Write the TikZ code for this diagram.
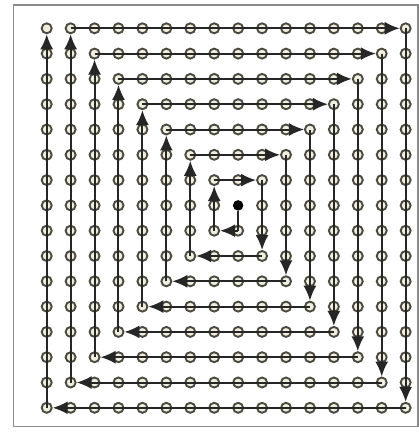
\documentclass[tikz,border=0pt]{standalone}
\usetikzlibrary{arrows.meta}
\definecolor{circ}{HTML}{4A4A3E}
\definecolor{circfill}{HTML}{F1EEDF}
\definecolor{framecol}{HTML}{8A8A8A}
\begin{document}
\begin{tikzpicture}[x=1pt,y=-1pt,
  dot/.style={circle, draw=circ, fill=circfill, line width=1.9pt, minimum size=10pt, inner sep=0pt},
  centre/.style={circle, fill=black, minimum size=10.5pt, inner sep=0pt},
  seg/.style={line width=2pt, draw=black!85},
  aseg/.style={seg, -{Latex[length=15pt,width=13pt]}}]
\useasboundingbox (0,0) rectangle (419,432);
\fill[white] (0,0) rectangle (419,432);
\draw[framecol, line width=1.8pt] (13.5,5) rectangle (418,426.5);
% grid of nodes
\foreach \i in {0,...,15}{\foreach \j in {0,...,15}{
  \ifnum\i=8 \ifnum\j=7 \def\st{centre}\else\def\st{dot}\fi\else\def\st{dot}\fi
  \node[\st] (n-\i-\j) at ({46.7+23.93*\i},{28.3+25.3*\j}) {};
}}
% spiral
\draw[seg] (n-8-7) -- (n-8-8.center);
\draw[aseg] (n-8-8.center) -- (n-7-8);
\draw[aseg] (n-7-8.center) -- (n-7-6);
\foreach \k in {1,...,7}{
  \pgfmathtruncatemacro\a{8-\k}
  \pgfmathtruncatemacro\b{7-\k}
  \pgfmathtruncatemacro\c{8+\k}
  \pgfmathtruncatemacro\e{7-\k}
  \pgfmathtruncatemacro\f{max(6-\k,0)}
  \draw[aseg] (n-\a-\b.center) -- (n-\c-\b);
  \draw[aseg] (n-\c-\b.center) -- (n-\c-\c);
  \draw[aseg] (n-\c-\c.center) -- (n-\e-\c);
  \draw[aseg] (n-\e-\c.center) -- (n-\e-\f);
}
\end{tikzpicture}
\end{document}
